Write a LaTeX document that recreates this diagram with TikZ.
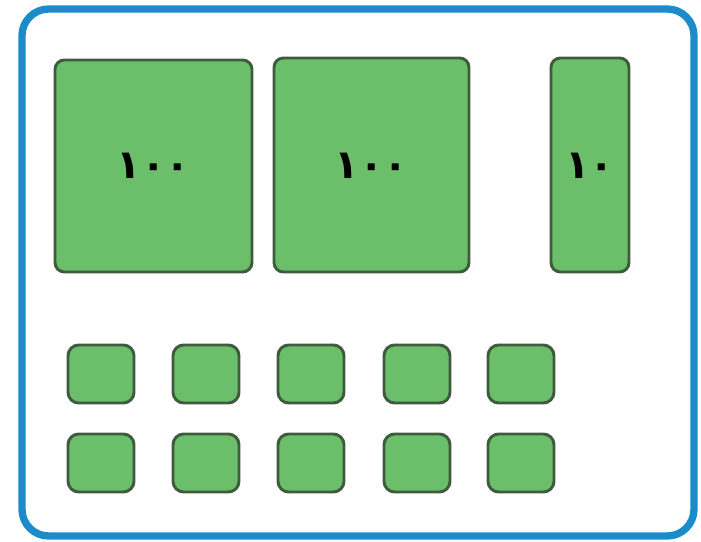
\documentclass[tikz,border=0pt]{standalone}
\usepackage{fontspec}
\newfontfamily\arabicfont[Script=Arabic]{DejaVu Sans}
\TeXXeTstate=1
\definecolor{frameblue}{HTML}{1B8BC9}
\definecolor{blockgreen}{HTML}{6CBF6A}
\definecolor{blockedge}{HTML}{3E5B3E}
\begin{document}
\begin{tikzpicture}[x=0.75pt,y=-0.75pt,
  block/.style={draw=blockedge,fill=blockgreen,line width=2.2pt,rounded corners=7pt},
  numlabel/.style={font=\arabicfont\bfseries\fontsize{30}{34}\selectfont,text=black}]
\useasboundingbox (0,0) rectangle (701,542);
\draw[frameblue,line width=5.5pt,rounded corners=20pt] (22,9) rectangle (694,536);
% hundreds
\draw[block] (55,60) rectangle (252,272);
\draw[block] (274,58) rectangle (469,272);
\draw[block] (551,58) rectangle (629,272);
\node[numlabel] (h1) at (153.5,166) {\beginR ١٠٠\endR};
\node[numlabel] (h2) at (371.5,166) {\beginR ١٠٠\endR};
\node[numlabel] (t1) at (590,166) {\beginR ١٠\endR};
% ones
\foreach \x in {68,173,278,384,488} {
  \draw[block,rounded corners=8pt] (\x,345) rectangle ++(66,58);
  \draw[block,rounded corners=8pt] (\x,434) rectangle ++(66,58);
}
\end{tikzpicture}
\end{document}
